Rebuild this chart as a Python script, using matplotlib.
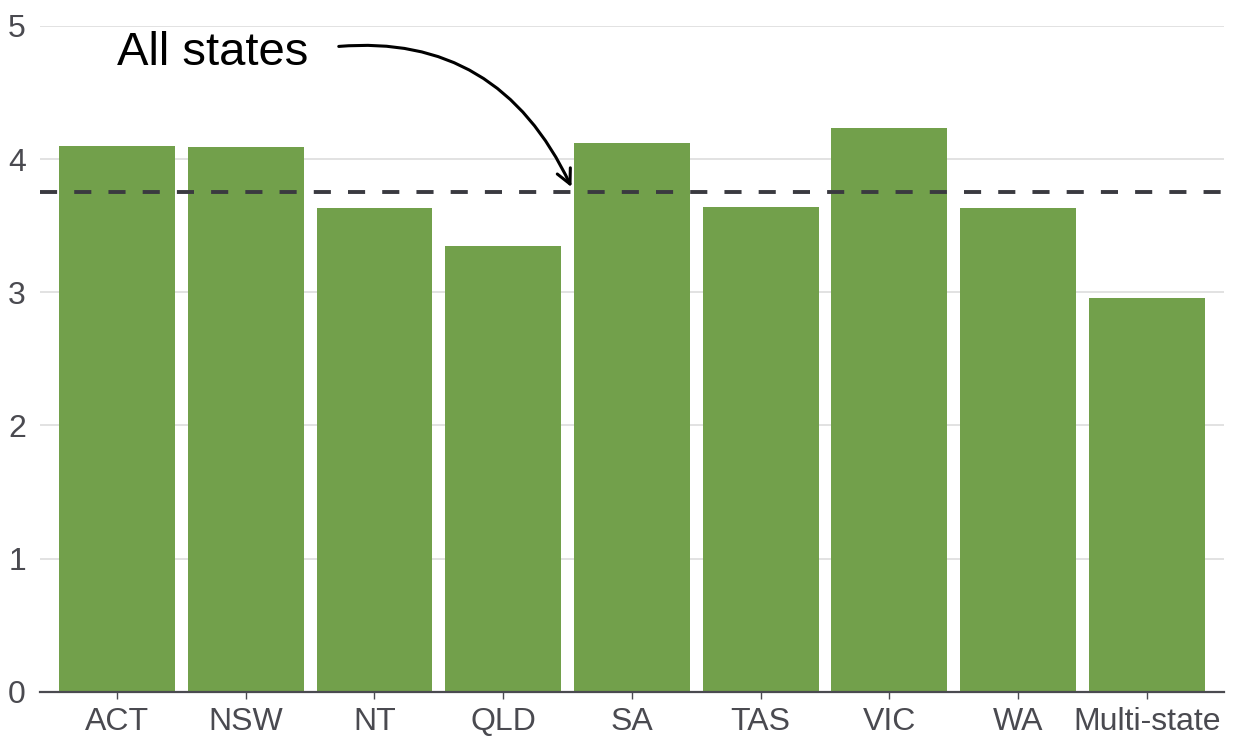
import matplotlib
matplotlib.use("Agg")
import matplotlib.pyplot as plt

states = ["ACT", "NSW", "NT", "QLD", "SA", "TAS", "VIC", "WA", "Multi-state"]
values = [4.10, 4.09, 3.63, 3.35, 4.12, 3.64, 4.23, 3.63, 2.96]
all_states = 3.75
y_ticks = [0, 1, 2, 3, 4, 5]

plt.rcParams['font.family'] = ['Liberation Sans', 'DejaVu Sans']

fig = plt.figure(figsize=(12.44, 7.40), dpi=100)
ax = fig.add_axes([0.032, 0.065, 0.952, 0.900])

x = list(range(len(states)))
ax.bar(x, values, width=0.9, color='#72A04B', zorder=2)
ax.axhline(all_states, color='#3a3a40', lw=2.8, dashes=(4.4, 4.4), zorder=3)

ax.set_xlim(-0.6, len(states) - 0.4)
ax.set_ylim(0, 5)
ax.set_yticks(y_ticks)
ax.set_xticks(x)
ax.set_xticklabels(states)
ax.yaxis.grid(True, color='#dddddd', lw=1.2, zorder=0)
ax.set_axisbelow(True)

for s in ['top', 'right', 'left']:
    ax.spines[s].set_visible(False)
ax.spines['bottom'].set_color('#4a4a50')
ax.spines['bottom'].set_linewidth(1.6)
ax.spines['bottom'].set_zorder(4)

ax.tick_params(axis='y', length=0, labelsize=23, labelcolor='#4a4a50', pad=10)
ax.tick_params(axis='x', length=5, width=1, color='#4a4a50', labelsize=23,
               labelcolor='#4a4a50', pad=6)

ax.annotate("All states", xy=(3.53, 3.79), xytext=(0.0, 4.8),
            textcoords='data', fontsize=34, color='black',
            ha='left', va='center',
            arrowprops=dict(arrowstyle='->', color='black', lw=2.2,
                            connectionstyle='arc3,rad=-0.38',
                            relpos=(1.0, 0.55),
                            shrinkA=20, shrinkB=0, mutation_scale=26))

fig.savefig("out.png", dpi=100)
